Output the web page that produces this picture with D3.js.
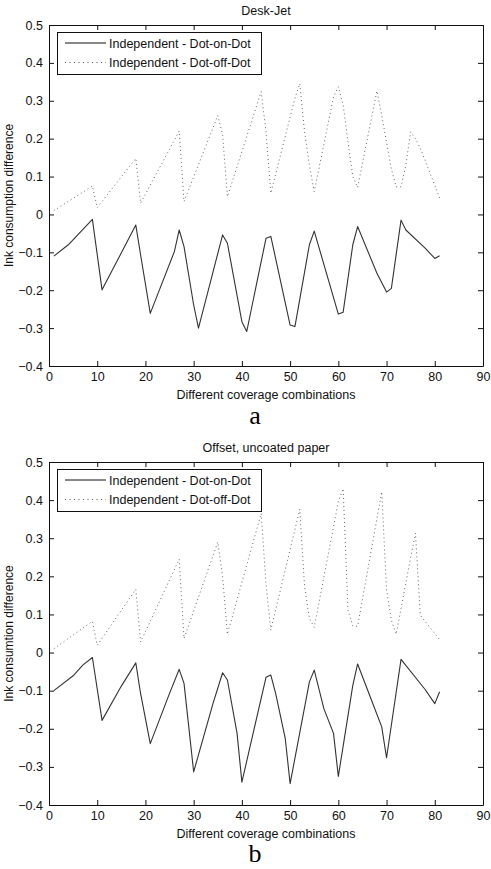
<!DOCTYPE html>
<html>
<head>
<meta charset="utf-8">
<script src="https://cdn.jsdelivr.net/npm/d3@7"></script>
<style>
  body { margin: 0; background: #fff; }
</style>
</head>
<body>
<div id="chart"></div>
<script>
// chart data (x = coverage combination index)
const xTicks = [0, 10, 20, 30, 40, 50, 60, 70, 80, 90]
const yTicks = [-0.4, -0.3, -0.2, -0.1, 0, 0.1, 0.2, 0.3, 0.4, 0.5]
const seriesNames = ["Independent - Dot-on-Dot", "Independent - Dot-off-Dot"]

// panel a : Desk-Jet
const deskOnX = [1, 4, 9, 11, 18, 19, 21, 26, 27, 28, 30, 31, 36, 37, 40, 41, 45, 46, 50, 51, 54, 55, 60, 61, 63, 64, 68, 70, 71, 73, 74, 78, 80, 81]
const deskOnY = [-0.11, -0.08, -0.013, -0.199, -0.028, -0.107, -0.261, -0.098, -0.041, -0.085, -0.239, -0.300, -0.054, -0.076, -0.283, -0.309, -0.063, -0.058, -0.292, -0.296, -0.08, -0.044, -0.263, -0.258, -0.08, -0.032, -0.155, -0.205, -0.195, -0.015, -0.041, -0.089, -0.116, -0.109]
const deskOffX = [1, 9, 10, 18, 19, 27, 28, 35, 36, 37, 44, 45, 46, 51, 52, 53, 54, 55, 59, 60, 61, 62, 63, 64, 68, 69, 70, 71, 72, 73, 74, 75, 76, 77, 81]
const deskOffY = [0.01, 0.075, 0.018, 0.148, 0.03, 0.22, 0.034, 0.261, 0.21, 0.047, 0.324, 0.218, 0.056, 0.307, 0.345, 0.218, 0.13, 0.06, 0.31, 0.337, 0.289, 0.192, 0.10, 0.071, 0.326, 0.262, 0.19, 0.12, 0.073, 0.073, 0.13, 0.218, 0.2, 0.175, 0.044]

// panel b : Offset, uncoated paper
const offsetOnX = [1, 5, 7, 9, 11, 15, 18, 19, 21, 25, 27, 28, 30, 34, 36, 37, 39, 40, 45, 46, 47, 49, 50, 54, 55, 57, 59, 60, 63, 64, 67, 69, 70, 73, 78, 80, 81]
const offsetOnY = [-0.10, -0.061, -0.033, -0.013, -0.178, -0.088, -0.027, -0.108, -0.239, -0.107, -0.044, -0.081, -0.313, -0.134, -0.053, -0.072, -0.212, -0.34, -0.065, -0.059, -0.107, -0.226, -0.344, -0.077, -0.046, -0.147, -0.212, -0.325, -0.086, -0.030, -0.129, -0.195, -0.276, -0.018, -0.097, -0.134, -0.103]
const offsetOffX = [1, 9, 10, 18, 19, 27, 28, 35, 36, 37, 44, 45, 46, 52, 53, 54, 55, 60, 61, 62, 63, 64, 69, 70, 71, 72, 75, 76, 77, 81]
const offsetOffY = [0.01, 0.082, 0.019, 0.166, 0.028, 0.245, 0.037, 0.29, 0.2, 0.048, 0.365, 0.18, 0.059, 0.376, 0.173, 0.09, 0.066, 0.396, 0.43, 0.111, 0.07, 0.069, 0.422, 0.164, 0.085, 0.048, 0.25, 0.313, 0.098, 0.034]

const W = 491, H = 869
const fs = 12.5
const sans = "'Liberation Sans', Arial, sans-serif"
const serif = "'Liberation Serif', 'Times New Roman', serif"

const svg = d3.select("#chart")
  .append("svg")
    .attr("width", W)
    .attr("height", H)
    .style("display", "block")

svg.append("rect").attr("width", W).attr("height", H).attr("fill", "#fff")

// draw one matlab style panel
function drawPanel(p) {
    const x = d3.scaleLinear().domain([0, 90]).range([p.left, p.right])
    const y = d3.scaleLinear().domain([-0.4, 0.5]).range([p.bottom, p.top])

    const g = svg.append("g").style("font-family", sans)

    // axes with inward ticks
    const fmt = d => d3.format("")(+d.toFixed(1))
    g.append("g")
        .attr("transform", `translate(0,${p.bottom})`)
        .call(d3.axisBottom(x).tickValues(xTicks).tickSizeInner(-5).tickSizeOuter(0).tickPadding(6).tickFormat(d3.format("d")))
    g.append("g")
        .attr("transform", `translate(${p.left},0)`)
        .call(d3.axisLeft(y).tickValues(yTicks).tickSizeInner(-5).tickSizeOuter(0).tickPadding(6).tickFormat(fmt))
    g.append("g")
        .attr("transform", `translate(0,${p.top})`)
        .call(d3.axisTop(x).tickValues(xTicks).tickSizeInner(-5).tickSizeOuter(0).tickFormat(""))
    g.append("g")
        .attr("transform", `translate(${p.right},0)`)
        .call(d3.axisRight(y).tickValues(yTicks).tickSizeInner(-5).tickSizeOuter(0).tickFormat(""))

    g.selectAll(".tick text")
        .attr("font-size", fs)
        .style("font-family", sans)
        .attr("fill", "#111")
    g.selectAll(".domain, .tick line").attr("stroke", "#111")

    // lines
    const line = d3.line()
        .x(d => x(d[0]))
        .y(d => y(d[1]))

    g.append("path")
        .datum(p.offX.map((v, i) => [v, p.offY[i]]))
        .attr("fill", "none")
        .attr("stroke", "#666")
        .attr("stroke-width", 1)
        .attr("stroke-dasharray", "1,3")
        .attr("d", line)

    g.append("path")
        .datum(p.onX.map((v, i) => [v, p.onY[i]]))
        .attr("fill", "none")
        .attr("stroke", "#333")
        .attr("stroke-width", 1.1)
        .attr("stroke-linejoin", "round")
        .attr("d", line)

    // legend
    const lg = g.append("g").attr("transform", `translate(57,${p.top + 7})`)
    lg.append("rect")
        .attr("x", 0.5).attr("y", 0.5)
        .attr("width", 204).attr("height", 42)
        .attr("fill", "#fff").attr("stroke", "#111")
    seriesNames.forEach((name, i) => {
        const yy = 11 + i * 19.5
        lg.append("line")
            .attr("x1", 8).attr("x2", 49)
            .attr("y1", yy).attr("y2", yy)
            .attr("stroke", i == 0 ? "#111" : "#555")
            .attr("stroke-dasharray", i == 0 ? null : "1,3.5")
        lg.append("text")
            .attr("x", 52).attr("y", yy + 4.5)
            .attr("font-size", fs)
            .attr("fill", "#111")
            .text(name)
    })

    // titles
    g.append("text")
        .attr("x", (p.left + p.right) / 2).attr("y", p.top - 10)
        .attr("text-anchor", "middle").attr("font-size", fs).attr("fill", "#111")
        .text(p.title)
    g.append("text")
        .attr("x", (p.left + p.right) / 2).attr("y", p.bottom + 33)
        .attr("text-anchor", "middle").attr("font-size", fs).attr("fill", "#111")
        .text("Different coverage combinations")
    g.append("text")
        .attr("transform", `translate(13,${(p.top + p.bottom) / 2}) rotate(-90)`)
        .attr("text-anchor", "middle").attr("font-size", 12).attr("fill", "#111")
        .text(p.ylabel)
    g.append("text")
        .attr("x", 255).attr("y", p.bottom + p.letterDy)
        .attr("text-anchor", "middle")
        .style("font-family", serif)
        .attr("font-size", 26).attr("fill", "#000")
        .text(p.letter)
}

drawPanel({ top: 25, bottom: 366, left: 49, right: 483, title: "Desk-Jet",
    ylabel: "Ink consumption difference", letter: "a", letterDy: 58,
    onX: deskOnX, onY: deskOnY, offX: deskOffX, offY: deskOffY })

drawPanel({ top: 462, bottom: 805, left: 49, right: 483, title: "Offset, uncoated paper",
    ylabel: "Ink consumtion difference", letter: "b", letterDy: 57,
    onX: offsetOnX, onY: offsetOnY, offX: offsetOffX, offY: offsetOffY })
</script>
</body>
</html>
